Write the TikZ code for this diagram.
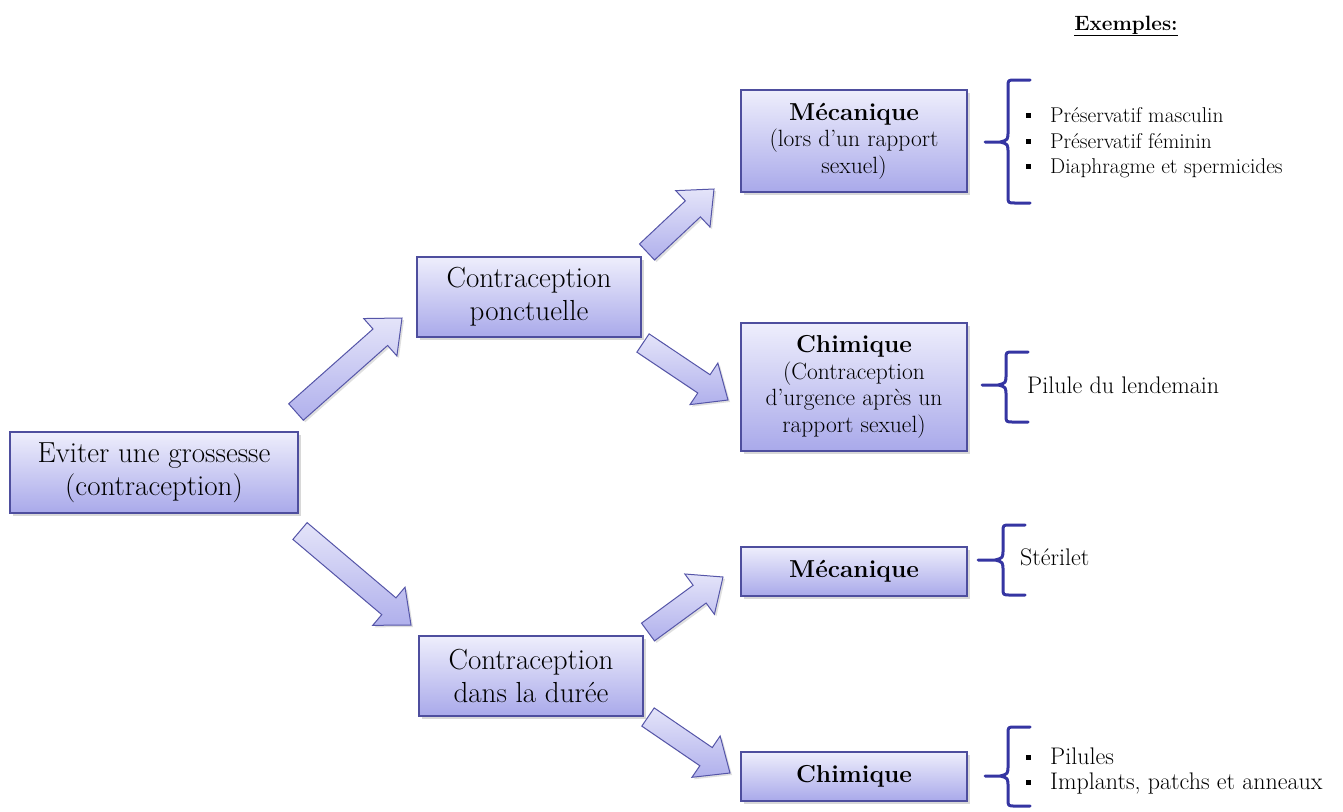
\documentclass[tikz,border=0pt]{standalone}
\usetikzlibrary{calc,shadows}
\definecolor{boxdraw}{HTML}{4E4E9E}
\definecolor{boxtop}{HTML}{EEEEFC}
\definecolor{boxbot}{HTML}{A9A9EA}
\definecolor{arrdraw}{HTML}{5555A8}
\definecolor{arrtop}{HTML}{E4E4F9}
\definecolor{arrbot}{HTML}{B0B0EC}
\definecolor{bracecol}{HTML}{3535A2}
\newcommand\bigf{\fontsize{29}{33}\selectfont}
\newcommand\ttlf{\fontsize{24.5}{29}\selectfont\bfseries}
\newcommand\subf{\fontsize{23.5}{26.5}\selectfont}
\newcommand\itemf{\fontsize{21.4}{24}\selectfont}
\newcommand\itemg{\fontsize{24}{26}\selectfont}
\newcommand\bul{\makebox[24pt][l]{\rule[4.5pt]{5pt}{5pt}}}
\newcommand\blockarrow[2]{%
  \coordinate (#1-n) at ($(#2)!29pt!(#1)$);
  \draw[arrowbody] ($(#1)!11pt!90:(#2)$) -- ($(#1-n)!11pt!90:(#2)$) -- ($(#1-n)!25pt!90:(#2)$) -- (#2)
     -- ($(#1-n)!25pt!-90:(#2)$) -- ($(#1-n)!11pt!-90:(#2)$) -- ($(#1)!11pt!-90:(#2)$) -- cycle;}
\newcommand\mybrace[5]{%
  \draw[bracepath] ({#1+22},#2) -- ({#1+7},#2) .. controls (#1,#2) .. (#1,{#2+7})
     -- (#1,{#3-11}) .. controls (#1,{#3-2}) .. ({#1-8},#3) -- (#5,#3) -- ({#1-8},#3)
     .. controls (#1,{#3+2}) .. (#1,{#3+11}) -- (#1,{#4-7}) .. controls (#1,#4) .. ({#1+7},#4) -- ({#1+22},#4);}
\begin{document}
\begin{tikzpicture}[x=1pt,y=-1pt,
  box/.style={draw=boxdraw, line width=1.1pt, top color=boxtop, bottom color=boxbot,
    align=center, inner sep=0pt, drop shadow={opacity=0.3, shadow xshift=2.5pt, shadow yshift=-2.5pt}},
  arrowbody/.style={draw=arrdraw, line width=1pt, line join=miter, top color=arrtop, bottom color=arrbot,
    drop shadow={opacity=0.25, shadow xshift=2pt, shadow yshift=-2pt}},
  bracepath/.style={draw=bracecol, line width=3pt, line cap=round, line join=round},
  itemtxt/.style={anchor=base west, inner sep=0pt, font=\itemf},
  itembig/.style={anchor=base west, inner sep=0pt, font=\itemg}]
\fill[white] (0,0) rectangle (1343,811);
\useasboundingbox (0,0) rectangle (1343,811);

% boxes
\node[box, minimum width=288pt, minimum height=81pt, font=\bigf] (root) at (154,472.5) {Eviter une grossesse\\(contraception)};
\node[box, minimum width=224pt, minimum height=80pt, font=\bigf] (ponct) at (529,297) {Contraception\\ponctuelle};
\node[box, minimum width=224pt, minimum height=80pt, font=\bigf] (duree) at (531,676) {Contraception\\dans la durée};
\node[box, minimum width=226pt, minimum height=102pt, font=\subf] (meca1) at (854,141) {{\ttlf Mécanique}\\(lors d’un rapport\\sexuel)};
\node[box, minimum width=226pt, minimum height=128pt, font=\subf] (chim1) at (854,387) {{\ttlf Chimique}\\(Contraception\\d’urgence après un\\rapport sexuel)};
\node[box, minimum width=226pt, minimum height=49pt, font=\ttlf] (meca2) at (854,571.5) {Mécanique};
\node[box, minimum width=226pt, minimum height=49pt, font=\ttlf] (chim2) at (854,776.5) {Chimique};

% block arrows
\coordinate (a1t) at (296,412); \coordinate (a1h) at (402,318);
\coordinate (a2t) at (300,531); \coordinate (a2h) at (411,625);
\coordinate (a3t) at (647,252); \coordinate (a3h) at (714,189);
\coordinate (a4t) at (643,343); \coordinate (a4h) at (728,400);
\coordinate (a5t) at (648,632); \coordinate (a5h) at (723,577);
\coordinate (a6t) at (648,717); \coordinate (a6h) at (730,773);
\blockarrow{a1t}{a1h}
\blockarrow{a2t}{a2h}
\blockarrow{a3t}{a3h}
\blockarrow{a4t}{a4h}
\blockarrow{a5t}{a5h}
\blockarrow{a6t}{a6h}

% braces
\mybrace{1008}{80}{142}{203}{985}
\mybrace{1006}{352}{385}{422}{982}
\mybrace{1003}{525}{560}{595}{978}
\mybrace{1008}{727}{776}{806}{985}

% examples
\node[anchor=base, inner sep=0pt, font=\fontsize{20.7}{24}\selectfont\bfseries] (ex) at (1126,30) {\underline{Exemples:}};
\node[itemtxt] (i1) at (1026,122) {\bul Préservatif masculin};
\node[itemtxt] (i2) at (1026,148) {\bul Préservatif féminin};
\node[itemtxt] (i3) at (1026,173) {\bul Diaphragme et spermicides};
\node[itembig] (i4) at (1027,393) {Pilule du lendemain};
\node[itembig] (i5) at (1020,565) {Stérilet};
\node[itembig] (i6) at (1026,764) {\bul Pilules};
\node[itembig] (i7) at (1026,789) {\bul Implants, patchs et anneaux};
\end{tikzpicture}
\end{document}
